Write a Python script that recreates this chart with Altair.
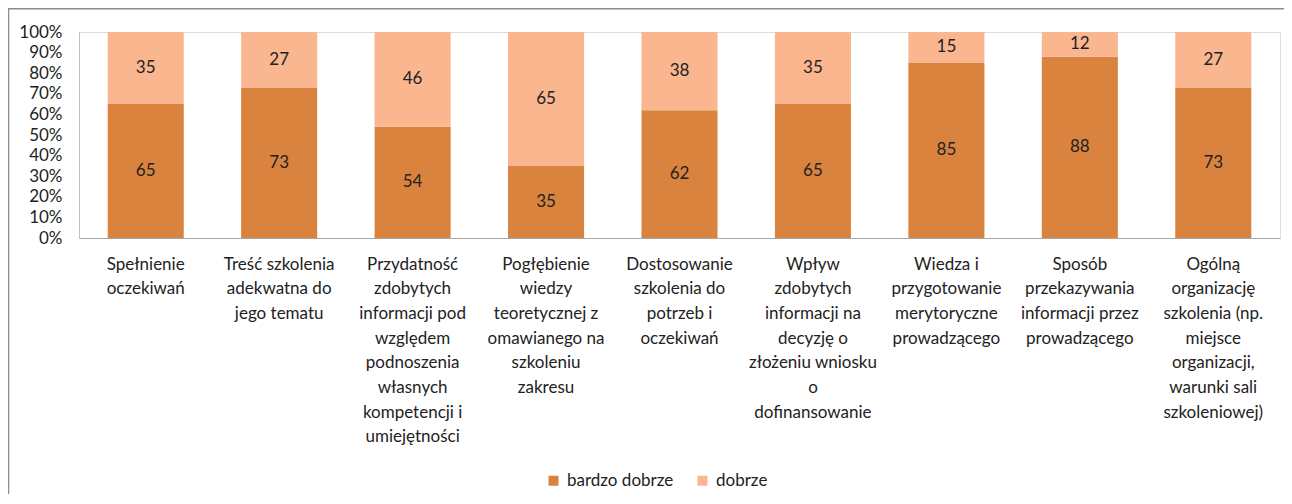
import altair as alt
import pandas as pd

categories = [
    "Spełnienie|oczekiwań",
    "Treść szkolenia|adekwatna do|jego tematu",
    "Przydatność|zdobytych|informacji pod|względem|podnoszenia|własnych|kompetencji i|umiejętności",
    "Pogłębienie|wiedzy|teoretycznej z|omawianego na|szkoleniu|zakresu",
    "Dostosowanie|szkolenia do|potrzeb i|oczekiwań",
    "Wpływ|zdobytych|informacji na|decyzję o|złożeniu wniosku|o|dofinansowanie",
    "Wiedza i|przygotowanie|merytoryczne|prowadzącego",
    "Sposób|przekazywania|informacji przez|prowadzącego",
    "Ogólną|organizację|szkolenia (np.|miejsce|organizacji,|warunki sali|szkoleniowej)",
]
series = ["bardzo dobrze", "dobrze"]
bardzo_dobrze = [65, 73, 54, 35, 62, 65, 85, 88, 73]
dobrze = [35, 27, 46, 65, 38, 35, 15, 12, 27]
colors = ["#D9833F", "#F9B68F"]
y_ticks = [0, 0.1, 0.2, 0.3, 0.4, 0.5, 0.6, 0.7, 0.8, 0.9, 1.0]

rows = []
for i, c in enumerate(categories):
    rows.append({"cat": c, "series": series[0], "ord": 0, "value": bardzo_dobrze[i]})
    rows.append({"cat": c, "series": series[1], "ord": 1, "value": dobrze[i]})
df = pd.DataFrame(rows)

W, H = 1201, 206
FONT = "Lato"

base = alt.Chart(df).transform_stack(
    stack="value", as_=["y0", "y1"], groupby=["cat"],
    sort=[alt.SortField("ord", order="ascending")], offset="normalize"
).transform_calculate(mid="(datum.y0 + datum.y1) / 2")

x_axis = alt.Axis(labelExpr="split(datum.label, '|')", labelAngle=0,
                  labelFont=FONT, labelFontSize=17, labelColor="#222222",
                  labelLineHeight=24.7, labelPadding=18, ticks=False,
                  domainColor="#A6A6A6", labelLimit=200, labelBaseline="top",
                  labelOverlap=False)
y_axis = alt.Axis(values=y_ticks, format=".0%", ticks=False, grid=False,
                  tickCount=11, labelFont=FONT, labelFontSize=17, labelColor="#222222",
                  labelPadding=17, domainColor="#BFBFBF", labelOverlap=False)
x_scale = alt.Scale(paddingInner=0.43, paddingOuter=0.215)
y_scale = alt.Scale(domain=[0, 1], nice=False)

bars = base.mark_bar().encode(
    x=alt.X("cat:N", sort=categories, title=None, scale=x_scale, axis=x_axis),
    y=alt.Y("y0:Q", title=None, scale=y_scale, axis=y_axis),
    y2="y1:Q",
    color=alt.Color("series:N", sort=series,
                    scale=alt.Scale(domain=series, range=colors),
                    legend=alt.Legend(title=None, orient="none", direction="horizontal",
                                      legendX=466, legendY=440, symbolType="square",
                                      symbolSize=100, symbolStrokeWidth=0,
                                      labelFont=FONT, labelFontSize=17,
                                      labelColor="#222222", columnPadding=20,
                                      labelOffset=5)),
)

text = base.mark_text(font=FONT, fontSize=17, color="#222222").encode(
    x=alt.X("cat:N", sort=categories, title=None, scale=x_scale, axis=x_axis),
    y=alt.Y("mid:Q", title=None, scale=y_scale, axis=y_axis),
    text="value:Q",
)

border = alt.Chart(pd.DataFrame({"a": [0]})).mark_rect(
    fill=None, stroke="#8C8C8C", strokeWidth=1.5
).encode(
    x=alt.value(-70.5), x2=alt.value(W + 40),
    y=alt.value(-23.2), y2=alt.value(H + 400),
)

chart = alt.layer(border, bars, text).properties(
    width=W, height=H,
    autosize=alt.AutoSizeParams(type="none"),
    padding={"left": 71, "top": 24, "right": 4, "bottom": 256},
).configure_view(stroke=None).configure(background="white")

chart.save("out.html", embed_options={"renderer": "svg", "actions": False})
